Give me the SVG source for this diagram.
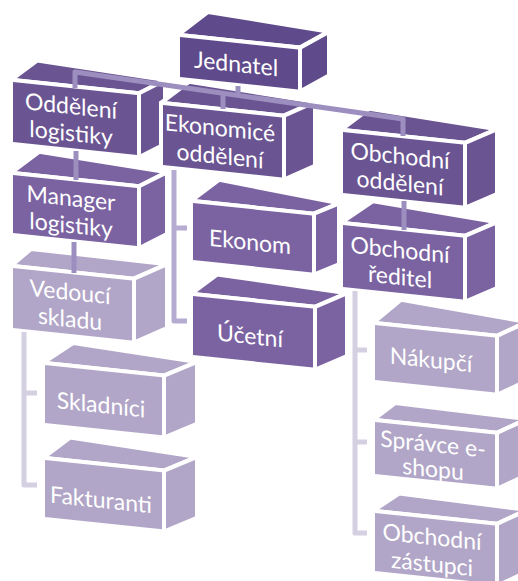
<svg xmlns="http://www.w3.org/2000/svg" width="518" height="581" viewBox="0 0 518 581">
<style>
.f{stroke:#fff;stroke-width:4;stroke-linejoin:round}
.c0{fill:#5f4b8b}
.c1{fill:#6a5492}
.c2{fill:#7b63a2}
.c3{fill:#b1a6c7}
.t{font-family:Lato,"Open Sans",sans-serif;font-size:23px;fill:#fff;text-anchor:middle}
.cn{fill:none;stroke-width:5;stroke-linejoin:round}
.k1{stroke:#9d8ec0}
.k2{stroke:#b6abd1}
.k3{stroke:#d5cfe2}
</style>
<rect width="518" height="581" fill="#fff"/>
<g id="jednatel" class="c0" transform="translate(180,37) skewY(6)">
<polygon class="f" points="-2,-2 120,-2 149,-21 28,-28"/>
<polygon class="f" points="120,-2 149,-21 149,23 120,42"/>
<rect class="f" x="-2" y="-2" width="122" height="44"/>
<text class="t" x="56" y="29">Jednatel</text>
</g>
<g id="oddeleni-logistiky" class="c1" transform="translate(13,82) skewY(6)">
<polygon class="f" points="-2,-2 126,-2 152,-18 24,-24"/>
<polygon class="f" points="126,-2 152,-18 152,46 126,62"/>
<rect class="f" x="-2" y="-2" width="128" height="64"/>
<text class="t" x="58" y="26">Oddělení</text>
<text class="t" x="58" y="53">logistiky</text>
</g>
<g id="ekonomicke-oddeleni" class="c1" transform="translate(163,105) skewY(6)">
<polygon class="f" points="-2,-2 121,-2 152,-19 26,-26"/>
<polygon class="f" points="121,-2 152,-19 152,45 121,62"/>
<rect class="f" x="-2" y="-2" width="123" height="64"/>
<text class="t" x="57" y="25">Ekonomicé</text>
<text class="t" x="57" y="53">oddělení</text>
</g>
<g id="obchodni-oddeleni" class="c1" transform="translate(343,132) skewY(6)">
<polygon class="f" points="-2,-2 122,-2 154,-19 26,-26"/>
<polygon class="f" points="122,-2 154,-19 154,46 122,63"/>
<rect class="f" x="-2" y="-2" width="124" height="65"/>
<text class="t" x="57" y="26">Obchodní</text>
<text class="t" x="57" y="53">oddělení</text>
</g>
<g id="manager-logistiky" class="c2" transform="translate(13,175) skewY(6)">
<polygon class="f" points="-2,-2 126,-2 154,-19 26,-26"/>
<polygon class="f" points="126,-2 154,-19 154,43 126,60"/>
<rect class="f" x="-2" y="-2" width="128" height="62"/>
<text class="t" x="58" y="25">Manager</text>
<text class="t" x="58" y="52">logistiky</text>
</g>
<g id="ekonom" class="c2" transform="translate(193,203) skewY(6)">
<polygon class="f" points="-2,-2 121,-2 146,-15 26,-26"/>
<polygon class="f" points="121,-2 146,-15 146,46 121,59"/>
<rect class="f" x="-2" y="-2" width="123" height="61"/>
<text class="t" x="57" y="41">Ekonom</text>
</g>
<g id="ucetni" class="c2" transform="translate(193,296) skewY(6)">
<polygon class="f" points="-2,-2 122,-2 154,-19 24,-24"/>
<polygon class="f" points="122,-2 154,-19 154,44 122,61"/>
<rect class="f" x="-2" y="-2" width="124" height="63"/>
<text class="t" x="57" y="42">Účetní</text>
</g>
<g id="obchodni-reditel" class="c2" transform="translate(343,225) skewY(6)">
<polygon class="f" points="-2,-2 122,-2 154,-19 30,-27"/>
<polygon class="f" points="122,-2 154,-19 154,47 122,64"/>
<rect class="f" x="-2" y="-2" width="124" height="66"/>
<text class="t" x="57" y="27">Obchodní</text>
<text class="t" x="57" y="54">ředitel</text>
</g>
<g id="vedouci-skladu" class="c3" transform="translate(13,268) skewY(6)">
<polygon class="f" points="-2,-2 121,-2 154,-20 18,-21"/>
<polygon class="f" points="121,-2 154,-20 154,44 121,62"/>
<rect class="f" x="-2" y="-2" width="123" height="64"/>
<text class="t" x="57" y="26">Vedoucí</text>
<text class="t" x="57" y="53">skladu</text>
</g>
<g id="skladnici" class="c3" transform="translate(45,365) skewY(6)">
<polygon class="f" points="-2,-2 119,-2 152,-19 28,-25"/>
<polygon class="f" points="119,-2 152,-19 152,43 119,60"/>
<rect class="f" x="-2" y="-2" width="121" height="62"/>
<text class="t" x="56" y="42">Skladníci</text>
</g>
<g id="fakturanti" class="c3" transform="translate(45,460) skewY(6)">
<polygon class="f" points="-2,-2 119,-2 152,-19 25,-25"/>
<polygon class="f" points="119,-2 152,-19 152,42 119,59"/>
<rect class="f" x="-2" y="-2" width="121" height="61"/>
<text class="t" x="56" y="42">Fakturanti</text>
</g>
<g id="nakupci" class="c3" transform="translate(375,325) skewY(6)">
<polygon class="f" points="-2,-2 122,-2 152,-19 26,-28"/>
<polygon class="f" points="122,-2 152,-19 152,40 122,57"/>
<rect class="f" x="-2" y="-2" width="124" height="59"/>
<text class="t" x="56" y="37">Nákupčí</text>
</g>
<g id="spravce-eshopu" class="c3" transform="translate(375,422) skewY(6)">
<polygon class="f" points="-2,-2 122,-2 152,-19 20,-21"/>
<polygon class="f" points="122,-2 152,-19 152,37 122,54"/>
<rect class="f" x="-2" y="-2" width="124" height="56"/>
<text class="t" x="58" y="24">Správce e-</text>
<text class="t" x="58" y="49">shopu</text>
</g>
<g id="obchodni-zastupci" class="c3" transform="translate(375,513) skewY(6)">
<polygon class="f" points="-2,-2 122,-2 152,-19 24,-22"/>
<polygon class="f" points="122,-2 152,-19 152,43 122,60"/>
<rect class="f" x="-2" y="-2" width="124" height="62"/>
<text class="t" x="57" y="26">Obchodní</text>
<text class="t" x="57" y="53">zástupci</text>
</g>
<g id="connectors">
<path class="cn k1" d="M75,88 L75,72 L403,119 L403,136"/>
<path class="cn k1" d="M238,86 L238,96"/>
<path class="cn k1" d="M223,93 L223,109"/>
<path class="cn k1" d="M76,151 L76,180"/>
<path class="cn k1" d="M74,242 L74,273"/>
<path class="cn k1" d="M404,201 L404,230"/>
<path class="cn k2" d="M174,170 L174,321 L187,321 M174,228 L187,228"/>
<path class="cn k3" d="M24,332 L24,485 L37,485 M24,393 L37,393"/>
<path class="cn k3" d="M355,291 L355,533 L367,533 M355,350 L367,350 M355,442 L367,442"/>
</g>
</svg>
